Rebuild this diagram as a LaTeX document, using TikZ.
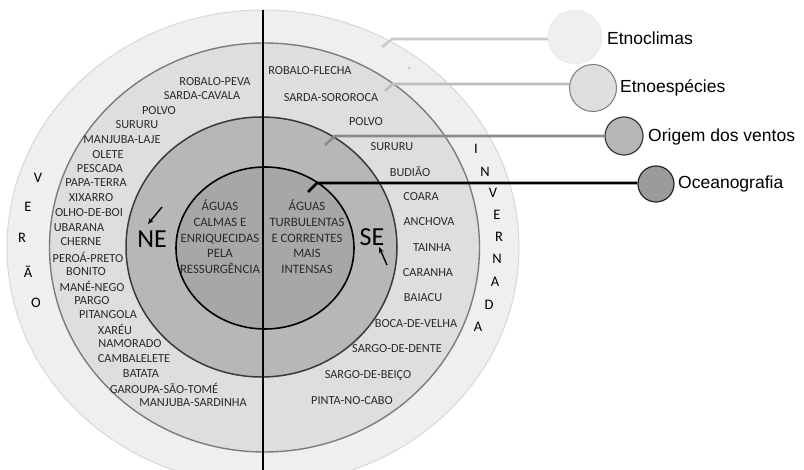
\documentclass[tikz,border=0pt]{standalone}
\usepackage{fontspec}
\setmainfont{Carlito}
\newfontfamily\legfont{Liberation Sans}
\usetikzlibrary{arrows.meta}
\definecolor{cOuter}{HTML}{EFEFEF}
\definecolor{cOuterB}{HTML}{D8D8D8}
\definecolor{cTwo}{HTML}{DEDEDE}
\definecolor{cTwoB}{HTML}{7C7C7C}
\definecolor{cThree}{HTML}{B7B7B7}
\definecolor{cThreeB}{HTML}{3A3A3A}
\definecolor{cFour}{HTML}{A7A7A7}
\definecolor{cText}{HTML}{2A2A2A}
\definecolor{cL1}{HTML}{CACACA}
\definecolor{cL2}{HTML}{BDBDBD}
\definecolor{cL3}{HTML}{8A8A8A}
\tikzset{
  sp/.style={font=\fontsize{12.3}{14}\selectfont, text=cText, inner sep=0pt},
  season/.style={font=\fontsize{14.5}{16}\selectfont, text=black, inner sep=0pt},
  center/.style={font=\fontsize{12.8}{15.7}\selectfont, text=cText, align=center, inner sep=0pt},
  wind/.style={font=\fontsize{26}{28}\selectfont, text=black, inner sep=0pt},
  legtext/.style={font=\legfont\fontsize{17.5}{20}\selectfont, text=black, anchor=west, inner sep=0pt},
  legdot/.style={circle, inner sep=0pt},
  windarrow/.style={line width=1.4pt, -{Stealth[length=6pt,width=5pt]}},
  leader/.style={line width=2.6pt}
}
\begin{document}
\begin{tikzpicture}[x=1pt,y=-1pt]
\useasboundingbox (0,0) rectangle (804,470);
\clip (0,0) rectangle (804,470);
\fill[white] (0,0) rectangle (804,470);
% rings
\draw[fill=cOuter, draw=cOuterB, line width=1pt] (263,247.5) ellipse [x radius=256pt, y radius=237.5pt];
\draw[fill=cTwo, draw=cTwoB, line width=1.4pt] (264.5,247.5) ellipse [x radius=215pt, y radius=204.5pt];
\draw[fill=cThree, draw=cThreeB, line width=1.5pt] (261.5,247) ellipse [x radius=135.5pt, y radius=130pt];
\draw[fill=cFour, draw=black, line width=1.6pt] (265,248) ellipse [x radius=89pt, y radius=81pt];
% vertical divider
\coordinate (vtop) at (263,10);
\coordinate (vbot) at (263,472);
\draw[line width=1.8pt] (vtop) -- (vbot);
% small dot
\fill[cL1] (409,68) circle [radius=1.6pt];
% left species
\node[sp] (l1) at (215,82) {ROBALO-PEVA};
\node[sp] (l2) at (202,96) {SARDA-CAVALA};
\node[sp] (l3) at (159,111) {POLVO};
\node[sp] (l4) at (137,125) {SURURU};
\node[sp] (l5) at (122,140) {MANJUBA-LAJE};
\node[sp] (l6) at (108,155) {OLETE};
\node[sp] (l7) at (100,169) {PESCADA};
\node[sp] (l8) at (96,183) {PAPA-TERRA};
\node[sp] (l9) at (91,198) {XIXARRO};
\node[sp] (l10) at (89,213) {OLHO-DE-BOI};
\node[sp] (l11) at (79,228) {UBARANA};
\node[sp] (l12) at (81,242) {CHERNE};
\node[sp] (l13) at (88,257) {PEROÁ-PRETO};
\node[sp] (l14) at (86,272) {BONITO};
\node[sp] (l15) at (92,286) {MANÉ-NEGO};
\node[sp] (l16) at (92,301) {PARGO};
\node[sp] (l17) at (108,315) {PITANGOLA};
\node[sp] (l18) at (115,329) {XARÉU};
\node[sp] (l19) at (130,344) {NAMORADO};
\node[sp] (l20) at (134,359) {CAMBALELETE};
\node[sp] (l21) at (141,374) {BATATA};
\node[sp] (l22) at (164,388) {GAROUPA-SÃO-TOMÉ};
\node[sp] (l23) at (193,403) {MANJUBA-SARDINHA};
% right species
\node[sp] (r1) at (310,71) {ROBALO-FLECHA};
\node[sp] (r2) at (331,98) {SARDA-SOROROCA};
\node[sp] (r3) at (366,122) {POLVO};
\node[sp] (r4) at (392,147) {SURURU};
\node[sp] (r5) at (410,172) {BUDIÃO};
\node[sp] (r6) at (421,197) {COARA};
\node[sp] (r7) at (429,222) {ANCHOVA};
\node[sp] (r8) at (432,248) {TAINHA};
\node[sp] (r9) at (428,273) {CARANHA};
\node[sp] (r10) at (423,298) {BAIACU};
\node[sp] (r11) at (416,324) {BOCA-DE-VELHA};
\node[sp] (r12) at (397,349) {SARGO-DE-DENTE};
\node[sp] (r13) at (368,376) {SARGO-DE-BEIÇO};
\node[sp] (r14) at (352,401) {PINTA-NO-CABO};
% VERÃO
\node[season] (v1) at (38,178) {V};
\node[season] (v2) at (28,207) {E};
\node[season] (v3) at (22,238) {R};
\node[season] (v4) at (28,272) {Ã};
\node[season] (v5) at (36,303) {O};
% INVERNADA
\node[season] (i1) at (476,149) {I};
\node[season] (i2) at (485,172) {N};
\node[season] (i3) at (493,193) {V};
\node[season] (i4) at (497,215) {E};
\node[season] (i5) at (499,237) {R};
\node[season] (i6) at (497,259) {N};
\node[season] (i7) at (495,282) {A};
\node[season] (i8) at (489,305) {D};
\node[season] (i9) at (478,327) {A};
% centre texts
\node[center] (cl) at (220,237) {ÁGUAS\\CALMAS E\\ENRIQUECIDAS\\PELA\\RESSURGÊNCIA};
\node[center] (cr) at (307,237) {ÁGUAS\\TURBULENTAS\\E CORRENTES\\MAIS\\INTENSAS};
% winds
\node[wind] (ne) at (152,239) {NE};
\node[wind] (se) at (372,237) {SE};
\coordinate (nea) at (162,207);
\coordinate (neb) at (148,224);
\coordinate (sea) at (387,265);
\coordinate (seb) at (379,247);
\draw[windarrow] (nea) -- (neb);
\draw[windarrow] (sea) -- (seb);
% legend
\node[legdot, minimum size=54pt, fill=cOuter, draw=cOuter!95!black, line width=0.4pt] (g1) at (575,37) {};
\node[legdot, minimum size=47pt, fill=cTwo, draw=cTwoB, line width=1pt] (g2) at (593,88) {};
\node[legdot, minimum size=38pt, fill=cThree, draw=cThreeB, line width=1.2pt] (g3) at (624,136) {};
\node[legdot, minimum size=36pt, fill=cFour!92!black, draw=black!85, line width=1.2pt] (g4) at (656,184) {};
\node[legtext] (t1) at (607,38) {Etnoclimas};
\node[legtext] (t2) at (620,88) {Etnoespécies};
\node[legtext] (t3) at (648,137) {Origem dos ventos};
\node[legtext] (t4) at (678,184) {Oceanografia};
% leaders
\coordinate (a1) at (382,47);
\coordinate (b1) at (392,39);
\coordinate (a2) at (385,91);
\coordinate (b2) at (393,84);
\coordinate (a3) at (325,145);
\coordinate (b3) at (335,136);
\coordinate (a4) at (308,192);
\coordinate (b4) at (317,183);
\draw[leader, cL1] (a1) -- (b1) -- (b1 -| g1.west);
\draw[leader, cL2] (a2) -- (b2) -- (b2 -| g2.west);
\draw[leader, cL3] (a3) -- (b3) -- (b3 -| g3.west);
\draw[leader, black] (a4) -- (b4) -- (b4 -| g4.west);
\end{tikzpicture}
\end{document}
